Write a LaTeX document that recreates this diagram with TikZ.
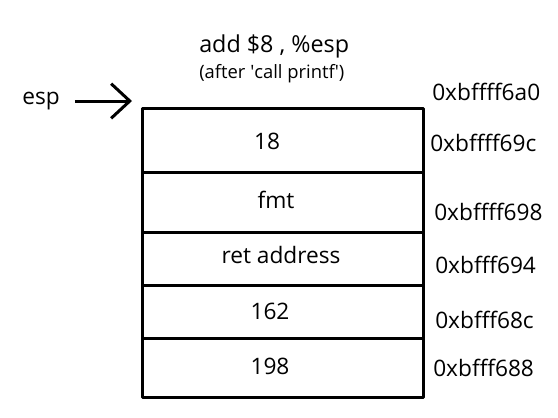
\documentclass[tikz,border=0pt]{standalone}
\usepackage{fontspec}
\setmainfont{Open Sans}
\usetikzlibrary{positioning,arrows.meta}
\begin{document}
\begin{tikzpicture}[x=.75pt,y=-.75pt,line join=round,
	txt/.style={inner sep=0pt,font=\fontsize{17}{20}\selectfont},
	cell/.style={draw,line width=2.25pt,minimum width=210.75pt,inner sep=0pt,outer sep=0pt},
	addr/.style={txt,anchor=west}]
	\useasboundingbox (0,0) rectangle (558,418);
	% stack cells, top to bottom
	\node[cell,minimum height=48pt] (c18) at (282.5,140) {};
	\node[cell,minimum height=45pt,below=0pt of c18] (cfmt) {};
	\node[cell,minimum height=39.75pt,below=0pt of cfmt] (cret) {};
	\node[cell,minimum height=39.75pt,below=0pt of cret] (c162) {};
	\node[cell,minimum height=44.25pt,below=0pt of c162] (c198) {};
	\node[txt] (t18) at (267,141.5) {18};
	\node[txt] (tfmt) at (276,199.5) {fmt};
	\node[txt] (tret) at (281,254.5) {ret address};
	\node[txt] (t162) at (270,311.5) {162};
	\node[txt] (t198) at (270,366.5) {198};
	% addresses
	\node[addr] (a6a0) at (432,92) {0xbffff6a0};
	\node[addr] (a69c) at (430,143) {0xbffff69c};
	\node[addr] (a698) at (434,212) {0xbffff698};
	\node[addr] (a694) at (435,265) {0xbfff694};
	\node[addr] (a68c) at (435,320) {0xbfff68c};
	\node[addr] (a688) at (433,368) {0xbfff688};
	% title
	\node[txt,anchor=base west,font=\fontsize{17.5}{20}\selectfont] (title) at (199,52) {add \$8 , \%esp};
	\node[inner sep=0pt,anchor=base west,font=\fontsize{13.8}{16}\selectfont] (sub) at (199,78) {(after \textquotesingle call printf\textquotesingle)};
	% stack pointer
	\node[txt] (esp) at (41,101) {esp};
	\coordinate (tip) at (132,101);
	\draw[line width=2.25pt,shorten <=11.25pt,-{Straight Barb[length=14pt,width=26pt]}] (esp.east) -- (tip);
\end{tikzpicture}
\end{document}
